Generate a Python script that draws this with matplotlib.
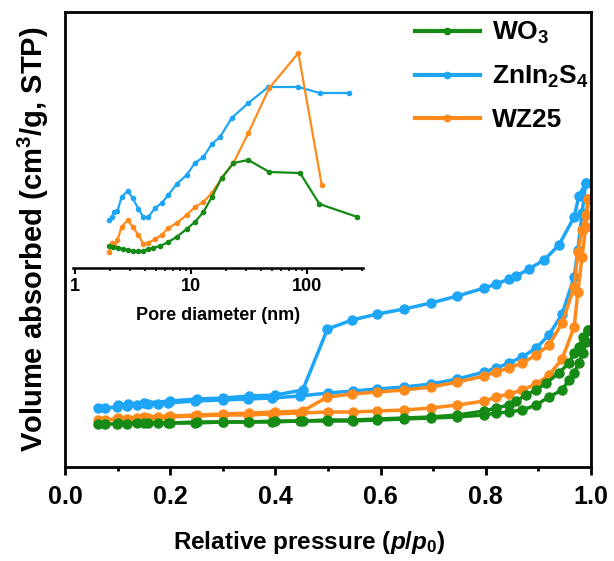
import matplotlib.pyplot as plt
from matplotlib.ticker import MultipleLocator, LogLocator, NullFormatter, FixedLocator

plt.rcParams['font.family'] = ['Liberation Sans', 'DejaVu Sans']
plt.rcParams['font.weight'] = 'bold'
plt.rcParams['axes.labelweight'] = 'bold'
plt.rcParams['mathtext.fontset'] = 'custom'
plt.rcParams['mathtext.rm'] = 'Liberation Sans:bold'
plt.rcParams['mathtext.bf'] = 'Liberation Sans:bold'
plt.rcParams['mathtext.it'] = 'Liberation Sans:italic:bold'
plt.rcParams['mathtext.default'] = 'bf'

green = '#158a15'
blue = '#1ea5f5'
orange = '#ff8a1c'

# -------------------- isotherm data (arbitrary units) --------------------
zis_ads_p = [0.063, 0.076, 0.099, 0.118, 0.137, 0.157, 0.176, 0.195, 0.247, 0.30, 0.347, 0.393, 0.446,
             0.50, 0.547, 0.594, 0.645, 0.696, 0.746, 0.797, 0.820, 0.844, 0.869, 0.896, 0.920,
             0.945, 0.968, 0.975, 0.983, 0.990]
zis_ads_v = [59, 59, 60, 61, 62, 63, 63, 64, 66, 67, 68, 69, 71,
             74, 76, 78, 80, 83, 88, 95, 99, 104, 110, 119, 132,
             153, 190, 217, 254, 284]
zis_des_p = [0.990, 0.977, 0.968, 0.939, 0.911, 0.882, 0.858, 0.844, 0.820, 0.797, 0.746, 0.696,
             0.645, 0.594, 0.546, 0.499, 0.452, 0.40, 0.35, 0.30, 0.25, 0.20, 0.15, 0.12, 0.10]
zis_des_v = [284, 271, 250, 222, 207, 198, 191, 188, 183, 179, 171, 164,
             158, 153, 147, 138, 77, 72, 71, 69, 68, 66, 64, 63, 62]

wz_ads_p = [0.063, 0.076, 0.099, 0.118, 0.137, 0.157, 0.176, 0.195, 0.247, 0.30, 0.347, 0.393, 0.446,
            0.50, 0.547, 0.594, 0.645, 0.696, 0.746, 0.797, 0.820, 0.844, 0.869, 0.896, 0.920,
            0.945, 0.968, 0.975, 0.983, 0.990, 0.995]
wz_ads_v = [47, 47, 48, 48, 49, 49, 50, 50, 51, 52, 52, 53, 54,
            55, 55, 56, 57, 59, 62, 66, 70, 73, 77, 83, 92,
            108, 140, 175, 210, 240, 268]
wz_des_p = [0.995, 0.990, 0.983, 0.975, 0.968, 0.945, 0.920, 0.896, 0.869, 0.844, 0.820, 0.797,
            0.746, 0.696, 0.645, 0.594, 0.546, 0.499, 0.452, 0.40, 0.35, 0.30, 0.25, 0.20, 0.15, 0.10]
wz_des_v = [268, 252, 237, 215, 180, 144, 122, 112, 104, 99, 95, 91,
            85, 80, 77, 75, 73, 70, 56, 55, 54, 53, 52, 51, 50, 49]

wo_ads_p = [0.063, 0.076, 0.099, 0.118, 0.137, 0.157, 0.176, 0.195, 0.247, 0.30, 0.347, 0.393, 0.446,
            0.50, 0.547, 0.594, 0.645, 0.696, 0.746, 0.797, 0.820, 0.844, 0.869, 0.896, 0.920,
            0.945, 0.958, 0.968, 0.977, 0.985, 0.990, 0.995]
wo_ads_v = [43, 43, 43, 43, 44, 44, 44, 44, 44, 45, 45, 45, 46,
            46, 46, 47, 48, 49, 50, 52, 54, 55, 57, 62, 70,
            77, 87, 94, 104, 114, 125, 137]
wo_des_p = [0.995, 0.985, 0.977, 0.968, 0.958, 0.939, 0.915, 0.896, 0.876, 0.858, 0.844, 0.820,
            0.797, 0.746, 0.696, 0.645, 0.594, 0.546, 0.499, 0.452, 0.40, 0.35, 0.30, 0.25, 0.20, 0.15, 0.10]
wo_des_v = [137, 130, 120, 114, 104, 94, 84, 77, 72, 66, 62, 59,
            56, 52, 50, 49, 48, 47, 47, 46, 46, 45, 45, 45, 44, 44, 44]

# -------------------- pore size distribution (inset) --------------------
zis_d = [1.98, 2.07, 2.18, 2.32, 2.52, 2.84, 3.14, 3.52, 3.88, 4.29, 4.89, 5.59, 6.38, 7.52,
         9.18, 10.8, 12.8, 15.1, 17.8, 22.4, 31.2, 46.4, 84.2, 129, 232]
zis_dv = [48, 51, 56, 57, 71, 77, 70, 59, 51, 51, 60, 65, 73, 84,
          93, 105, 111, 124, 131, 150, 165, 181, 181, 175, 175]
wz_d = [1.98, 2.07, 2.18, 2.32, 2.52, 2.84, 3.14, 3.52, 3.88, 4.29, 4.89, 5.59, 6.38, 7.52,
        9.18, 10.8, 12.8, 15.1, 18.4, 23.2, 31.2, 47.3, 84.2, 134]
wz_dv = [16, 25, 23, 28, 41, 48, 41, 33, 24, 25, 29, 33, 40, 45,
         53, 61, 66, 75, 90, 105, 135, 180, 215, 83]
wo_d = [1.98, 2.14, 2.36, 2.61, 2.88, 3.18, 3.52, 3.88, 4.29, 4.73, 5.40, 6.38, 7.52, 9.18,
        10.8, 12.8, 15.1, 18.4, 23.2, 31.2, 47.3, 87.1, 128, 272]
wo_dv = [22, 21, 20, 19, 18, 17, 17, 17, 19, 20, 22, 26, 31, 39,
         46, 56, 71, 90, 105, 108, 96, 95, 64, 51]

fig = plt.figure(figsize=(6.14, 5.61), dpi=100)
ax = fig.add_axes([65 / 614, 1 - 467 / 561, 526 / 614, 455 / 561])

kw = dict(marker='o', ms=6.5, lw=2.5)
ax.plot(zis_ads_p, zis_ads_v, color=blue, **kw)
ax.plot(zis_des_p, zis_des_v, color=blue, **kw)
ax.plot(wz_ads_p, wz_ads_v, color=orange, **kw)
ax.plot(wz_des_p, wz_des_v, color=orange, **kw)
ax.plot(wo_ads_p, wo_ads_v, color=green, **kw)
ax.plot(wo_des_p, wo_des_v, color=green, **kw)

ax.set_xlim(0, 1.0)
ax.set_ylim(0, 455)
ax.set_yticks([])
ax.xaxis.set_major_locator(MultipleLocator(0.2))
ax.xaxis.set_minor_locator(MultipleLocator(0.1))
ax.tick_params(axis='x', which='major', length=6, width=2, labelsize=18, pad=7)
ax.tick_params(axis='x', which='minor', length=3, width=2)
for s in ax.spines.values():
    s.set_linewidth(2)
ax.set_xlabel('Relative pressure ($\\mathit{p}$/$\\mathit{p}_0$)', fontsize=17.5, labelpad=14)
ax.xaxis.label.set_x(0.465)
ax.set_ylabel('Volume absorbed (cm$^3$/g, STP)', fontsize=21, labelpad=10)

# legend handles in WO3, ZnIn2S4, WZ25 order
h_wo, = ax.plot([], [], color=green, marker='o', ms=4.5, lw=3)
h_zis, = ax.plot([], [], color=blue, marker='o', ms=4.5, lw=3)
h_wz, = ax.plot([], [], color=orange, marker='o', ms=4.5, lw=3)
ax.legend([h_wo, h_zis, h_wz], ['WO$_3$', 'ZnIn$_2$S$_4$', 'WZ25'],
          loc='upper right', frameon=False, fontsize=19, handlelength=2.45,
          labelspacing=0.68, borderaxespad=0.0, borderpad=0.3, handletextpad=0.45,
          bbox_to_anchor=(1.01, 1.0))

# -------------------- inset --------------------
ins = fig.add_axes([73 / 614, 1 - 268 / 561, 290 / 614, 248 / 561])
ins.patch.set_alpha(0)
ikw = dict(marker='o', ms=3, lw=1.6)
ins.plot(zis_d, zis_dv, color=blue, **ikw)
ins.plot(wz_d, wz_dv, color=orange, **ikw)
ins.plot(wo_d, wo_dv, color=green, **ikw)
ins.set_xscale('log')
ins.set_xlim(0.96, 304)
ins.set_ylim(0, 248)
ins.set_yticks([])
for side in ['left', 'top', 'right']:
    ins.spines[side].set_visible(False)
ins.spines['bottom'].set_linewidth(1.8)
ins.xaxis.set_major_locator(FixedLocator([1, 10, 100]))
ins.set_xticklabels(['1', '10', '100'], fontweight='bold')
ins.xaxis.set_minor_locator(LogLocator(base=10, subs=range(2, 10)))
ins.xaxis.set_minor_formatter(NullFormatter())
ins.tick_params(axis='x', which='major', length=4, width=1.5, labelsize=13, pad=3)
ins.tick_params(axis='x', which='minor', length=2.5, width=1.2)
ins.set_xlabel('Pore diameter (nm)', fontsize=13, labelpad=9)

fig.savefig('out.png', dpi=100)
